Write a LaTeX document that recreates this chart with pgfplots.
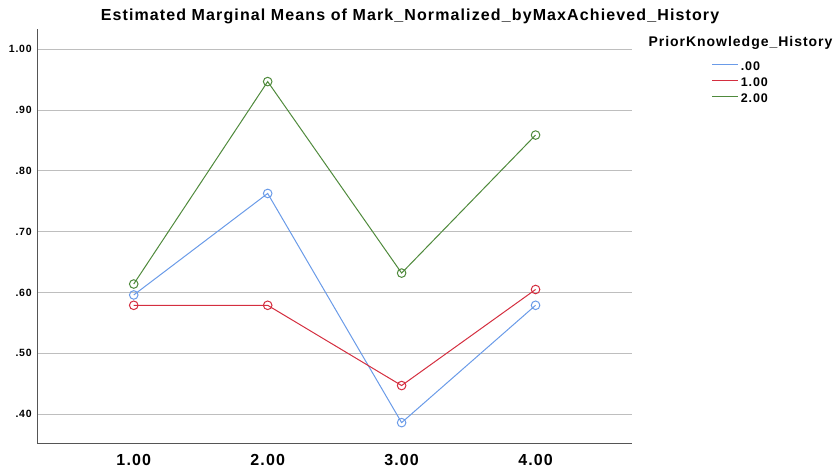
\documentclass[border=0pt]{standalone}
\usepackage{fontspec}
\setmainfont{Liberation Sans}[LetterSpace=7]
\usepackage{pgfplots}
\pgfplotsset{compat=1.18}
\definecolor{cblue}{HTML}{6A9BE8}
\definecolor{cred}{HTML}{D42E3F}
\definecolor{cgreen}{HTML}{4F8A3C}
\definecolor{cgrid}{HTML}{BEBEBE}
\definecolor{caxis}{HTML}{555555}
\begin{document}
\begin{tikzpicture}[x=1pt,y=1pt]
\useasboundingbox (0,0) rectangle (836,471);
\begin{axis}[
  at={(37.3pt,27.7pt)}, anchor=south west,
  scale only axis, width=594.7pt, height=414pt,
  xmin=0.28, xmax=4.72, ymin=0.352, ymax=1.033,
  axis x line*=bottom, axis y line*=left,
  axis line style={-, caxis, line width=1.2pt},
  xtick={1,2,3,4}, xticklabels={1.00,2.00,3.00,4.00},
  ytick={0.4,0.5,0.6,0.7,0.8,0.9,1.0},
  yticklabels={.40,.50,.60,.70,.80,.90,1.00},
  major tick length=0pt,
  ymajorgrids, grid style={cgrid, line width=1pt},
  /pgf/number format/assume math mode=true,
  yticklabel style={font=\bfseries\fontsize{10.5}{12}\selectfont, inner sep=0pt, xshift=-5.5pt},
  xticklabel style={font=\bfseries\fontsize{16}{19}\selectfont, inner sep=0pt, yshift=-10.7pt},
  legend image code/.code={\draw[#1, line width=1pt] (0pt,3.5pt) -- (26pt,3.5pt);},
  legend style={draw=none, fill=none, at={(axis description cs:1.134,0.922)}, anchor=north west,
    font=\bfseries\fontsize{12.5}{14}\selectfont, inner sep=0pt, row sep=4pt, column sep=2pt,
    nodes={inner sep=0pt, text height=9pt, text depth=3pt}},
  legend cell align=left,
]
\addplot[cblue, line width=1pt, mark=o, mark size=4.3pt, mark options={solid}] coordinates {(1,0.596) (2,0.763) (3,0.386) (4,0.579)};
\addplot[cred, line width=1pt, mark=o, mark size=4.3pt, mark options={solid}] coordinates {(1,0.579) (2,0.579) (3,0.447) (4,0.605)};
\addplot[cgreen, line width=1pt, mark=o, mark size=4.3pt, mark options={solid}] coordinates {(1,0.614) (2,0.947) (3,0.632) (4,0.859)};
\legend{.00,1.00,2.00}
\end{axis}
\node at (410,455) {\bfseries\fontsize{16}{19}\selectfont Estimated Marginal Means of Mark\_Normalized\_byMaxAchieved\_History};
\node[anchor=west, inner sep=0pt] at (648.3,427.7) {\bfseries\fontsize{14}{16}\selectfont PriorKnowledge\_History};
\end{tikzpicture}
\end{document}
